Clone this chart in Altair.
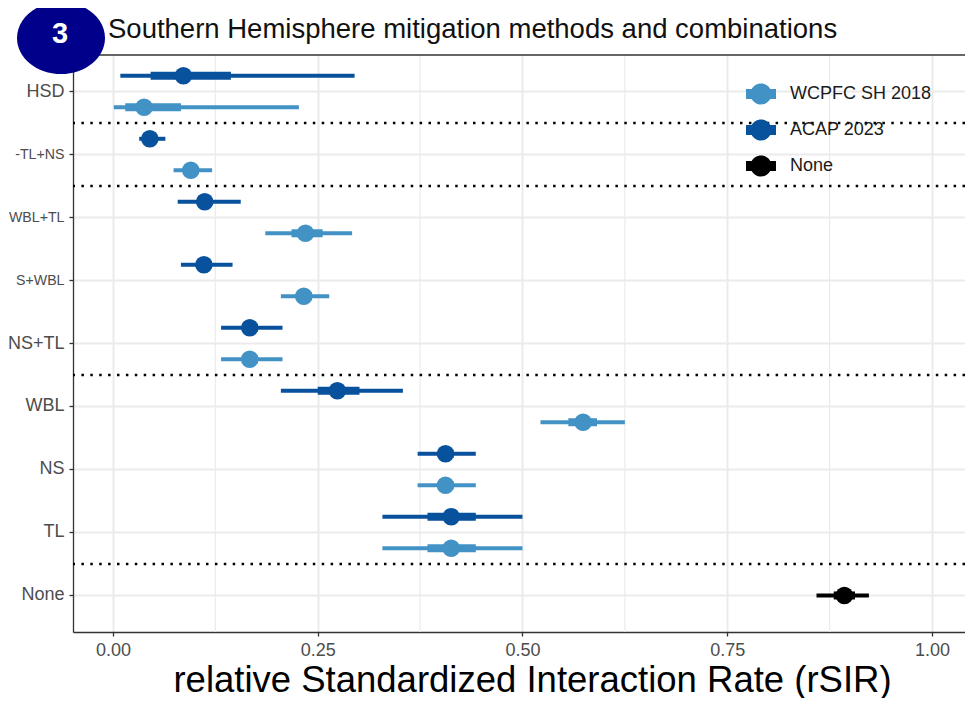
import altair as alt
import pandas as pd

# ---------------- data ----------------
categories = ["HSD", "-TL+NS", "WBL+TL", "S+WBL", "NS+TL", "WBL", "NS", "TL", "None"]
sources = ["WCPFC SH 2018", "ACAP 2023", "None"]
source_colors = ["#4292c6", "#08519c", "#000000"]
dodge_order = ["ACAP 2023", "None", "WCPFC SH 2018"]

acap_cat = ["HSD", "-TL+NS", "WBL+TL", "S+WBL", "NS+TL", "WBL", "NS", "TL"]
acap_point = [0.086, 0.045, 0.112, 0.111, 0.167, 0.274, 0.406, 0.413]
acap_lo95 = [0.009, 0.032, 0.079, 0.083, 0.132, 0.205, 0.372, 0.329]
acap_hi95 = [0.295, 0.064, 0.156, 0.146, 0.207, 0.354, 0.443, 0.500]
acap_lo66 = [0.046, 0.040, 0.104, 0.103, 0.158, 0.250, 0.397, 0.384]
acap_hi66 = [0.144, 0.050, 0.121, 0.120, 0.177, 0.301, 0.416, 0.443]

wcpfc_cat = ["HSD", "-TL+NS", "WBL+TL", "S+WBL", "NS+TL", "WBL", "NS", "TL"]
wcpfc_point = [0.038, 0.095, 0.235, 0.233, 0.167, 0.574, 0.406, 0.413]
wcpfc_lo95 = [0.001, 0.074, 0.186, 0.205, 0.132, 0.522, 0.372, 0.329]
wcpfc_hi95 = [0.227, 0.121, 0.292, 0.264, 0.207, 0.625, 0.443, 0.500]
wcpfc_lo66 = [0.015, 0.088, 0.218, 0.225, 0.158, 0.556, 0.397, 0.384]
wcpfc_hi66 = [0.083, 0.103, 0.256, 0.243, 0.177, 0.591, 0.416, 0.443]

none_cat = ["None"]
none_point = [0.893]
none_lo95 = [0.859]
none_hi95 = [0.923]
none_lo66 = [0.880]
none_hi66 = [0.906]

separator_after = ["-TL+NS", "WBL+TL", "WBL", "None"]
minor_grid = [0.125, 0.375, 0.625, 0.875]
x_ticks = [0.0, 0.25, 0.5, 0.75, 1.0]
cut_labels = ["-TL+NS", "WBL+TL", "S+WBL"]

title_text = "Southern Hemisphere mitigation methods and combinations"
x_title = "relative Standardized Interaction Rate (rSIR)"
badge_text = "3"

# ---------------- tables ----------------
frames = []
for src, c, p, l95, h95, l66, h66 in [
    ("WCPFC SH 2018", wcpfc_cat, wcpfc_point, wcpfc_lo95, wcpfc_hi95, wcpfc_lo66, wcpfc_hi66),
    ("ACAP 2023", acap_cat, acap_point, acap_lo95, acap_hi95, acap_lo66, acap_hi66),
    ("None", none_cat, none_point, none_lo95, none_hi95, none_lo66, none_hi66),
]:
    frames.append(pd.DataFrame({"cat": c, "src": src, "point": p,
                                "lo95": l95, "hi95": h95, "lo66": l66, "hi66": h66}))
df = pd.concat(frames, ignore_index=True)
sep_df = pd.DataFrame({"cat": separator_after})
minor_df = pd.DataFrame({"v": minor_grid})
badge_df = pd.DataFrame({"label": [badge_text]})
title_df = pd.DataFrame({"label": [title_text]})

FONT = "Liberation Sans"
FRAME = "#333333"

x_scale = alt.Scale(domain=[-0.0488, 1.0403], nice=False, zero=False)
x_axis = alt.Axis(values=x_ticks, format=".2f", title=x_title, grid=True,
                  gridColor="#ebebeb", gridWidth=2,
                  domain=True, domainColor=FRAME, domainWidth=1.3,
                  tickColor=FRAME, tickSize=4, tickWidth=1.3,
                  labelFont=FONT, labelFontSize=18, labelColor="#4d4d4d", labelPadding=5,
                  titleFont=FONT, titleFontSize=36.5, titleFontWeight="normal", titleColor="#000000",
                  titleX=459, titleY=59, titleBaseline="alphabetic", titleAlign="center")
y_scale = alt.Scale(type="band", paddingInner=0, paddingOuter=0.08)
cut_test = "indexof(" + str(cut_labels) + ", datum.value) >= 0"
y_axis = alt.Axis(title=None, grid=True, gridColor="#ebebeb", gridWidth=2,
                  domain=True, domainColor=FRAME, domainWidth=1.3,
                  tickColor=FRAME, tickSize=4, tickWidth=1.3,
                  labelFont=FONT,
                  labelFontSize={"condition": {"test": cut_test, "value": 14.2}, "value": 18},
                  labelColor="#4d4d4d", labelPadding=5)

def Y(**kw):
    return alt.Y("cat:N", sort=categories, scale=y_scale, axis=y_axis, **kw)

yoff = alt.YOffset("src:N", sort=dodge_order,
                   scale=alt.Scale(type="point", padding=2.32, domain=dodge_order))
color_scale = alt.Scale(domain=sources, range=source_colors)
color_enc = alt.Color("src:N", scale=color_scale, legend=alt.Legend(title=None))

legend_path = ("M-1,-0.33L-0.617,-0.33A0.7,0.7 0 0,1 0.617,-0.33L1,-0.33L1,0.33"
               "L0.617,0.33A0.7,0.7 0 0,1 -0.617,0.33L-1,0.33Z")

minor = alt.Chart(minor_df).mark_rule(color="#ebebeb", strokeWidth=1.2).encode(
    x=alt.X("v:Q", scale=x_scale, axis=x_axis))

top_border = alt.Chart(badge_df).mark_rule(color=FRAME, strokeWidth=1.3).encode(
    y=alt.value(0))

seps = alt.Chart(sep_df).mark_rule(color="#000000", strokeWidth=2.5, strokeDash=[2.5, 6.4]).encode(
    y=Y(bandPosition=0))

thin = alt.Chart(df).mark_rule(strokeWidth=4).encode(
    x=alt.X("lo95:Q", scale=x_scale, axis=x_axis), x2="hi95:Q",
    y=Y(), yOffset=yoff, color=color_enc)

thick = alt.Chart(df).mark_rule(strokeWidth=8).encode(
    x=alt.X("lo66:Q", scale=x_scale, axis=x_axis), x2="hi66:Q",
    y=Y(), yOffset=yoff, color=color_enc)

points = alt.Chart(df).mark_circle(size=310, opacity=1).encode(
    x=alt.X("point:Q", scale=x_scale, axis=x_axis),
    y=Y(), yOffset=yoff, color=color_enc)

ellipse = "M-1,0A1,0.82 0 1,0 1,0A1,0.82 0 1,0 -1,0Z"
badge = alt.Chart(badge_df).mark_point(shape=ellipse, size=7744, filled=True,
                                       fill="#00008B", opacity=1, strokeWidth=0).encode(
    x=alt.value(-12), y=alt.value(-17))
badge_label = alt.Chart(badge_df).mark_text(font=FONT, fontSize=29, fontWeight="bold",
                                            color="#ffffff", align="center", baseline="middle").encode(
    x=alt.value(-13), y=alt.value(-21), text="label:N")
title = alt.Chart(title_df).mark_text(font=FONT, fontSize=27.5, color="#111111",
                                      align="left", baseline="alphabetic").encode(
    x=alt.value(35), y=alt.value(-17), text="label:N")

chart = alt.layer(minor, top_border, seps, thin, thick, points, badge, badge_label, title).properties(
    width=892, height=577,
    autosize=alt.AutoSizeParams(type="none"),
    padding={"left": 65, "top": 47, "right": 0, "bottom": 66},
    background="#ffffff",
).configure_view(stroke=None).configure_legend(
    orient="none", legendX=673, legendY=24, padding=0,
    symbolType=legend_path, symbolSize=900, symbolStrokeWidth=0, symbolOpacity=1,
    symbolFillColor="#000000",
    labelFont=FONT, labelFontSize=18, labelColor="#1a1a1a",
    labelOffset=14, rowPadding=10,
)

chart.save("out.html", embed_options={"renderer": "svg", "actions": False})
